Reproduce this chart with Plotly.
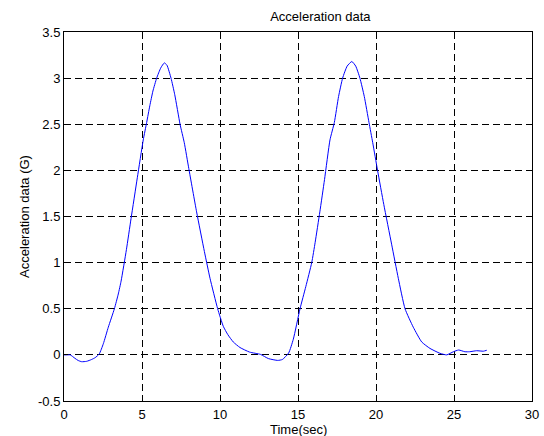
import plotly.graph_objects as go

time_sec = [0.0, 0.2, 0.4, 0.7, 0.9, 1.13, 1.45, 1.77, 2.0, 2.26, 2.52, 2.84, 3.23, 3.48, 3.66,
            4.0, 4.3, 4.7, 5.08, 5.3, 5.5, 5.7, 5.94, 6.2, 6.43, 6.6, 6.86, 7.1, 7.44, 7.71,
            8.0, 8.5, 9.0, 9.36, 9.85, 10.21, 10.5, 10.85, 11.28, 11.9, 12.6, 13.1, 13.7,
            14.0, 14.4, 14.7, 15.13, 15.5, 15.88, 16.1, 16.4, 16.7, 17.05, 17.33, 17.6, 17.86,
            18.15, 18.45, 18.7, 18.97, 19.25, 19.55, 19.79, 20.1, 20.5, 21.0, 21.43, 21.86,
            22.39, 22.93, 23.46, 24.1, 24.53, 24.96, 25.3, 25.7, 26.0, 26.45, 26.88, 27.1]
accel_g = [0.0, 0.0, 0.0, -0.037, -0.06, -0.074, -0.07, -0.05, -0.03, 0.01, 0.12, 0.3, 0.5, 0.66, 0.8,
           1.14, 1.48, 1.92, 2.33, 2.52, 2.7, 2.86, 3.0, 3.11, 3.165, 3.14, 3.0, 2.82, 2.5, 2.3,
           2.02, 1.55, 1.12, 0.83, 0.5, 0.31, 0.22, 0.14, 0.08, 0.03, 0.005, -0.04, -0.06,
           -0.05, 0.02, 0.17, 0.5, 0.74, 1.0, 1.22, 1.55, 1.9, 2.33, 2.52, 2.8, 3.0,
           3.13, 3.18, 3.13, 3.0, 2.8, 2.52, 2.3, 2.0, 1.63, 1.2, 0.83, 0.5,
           0.3, 0.14, 0.07, 0.017, 0.0, 0.034, 0.053, 0.034, 0.034, 0.045, 0.04, 0.05]

x_ticks = [0, 5, 10, 15, 20, 25, 30]
y_ticks = [-0.5, 0, 0.5, 1, 1.5, 2, 2.5, 3, 3.5]
y_tick_labels = ["-0.5", "0", "0.5", "1", "1.5", "2", "2.5", "3", "3.5"]

fig = go.Figure()
fig.add_trace(go.Scatter(x=time_sec, y=accel_g, mode="lines",
                         line=dict(color="#0000ff", width=1, shape="spline", smoothing=0.5),
                         showlegend=False))

font = dict(family="Liberation Sans, Arial, Helvetica, sans-serif", size=13, color="black")
axis_common = dict(showline=True, linecolor="black", linewidth=1, mirror="allticks",
                   ticks="inside", ticklen=4, tickcolor="black", showgrid=True,
                   gridcolor="black", gridwidth=1, griddash="7px,4px", zeroline=False,
                   tickfont=font, automargin=False)

plot_top, plot_bottom = 32, 401
plot_h = plot_bottom - plot_top

fig.update_layout(
    width=544, height=436,
    margin=dict(l=64, r=12, t=plot_top, b=436 - plot_bottom),
    paper_bgcolor="white", plot_bgcolor="white",
    font=font,
    title=dict(text="Acceleration data", x=(64 + 532) / 2 / 544, xref="paper", xanchor="center",
               y=1 - 16 / 436, yanchor="middle", font=dict(size=13, family=font["family"])),
    xaxis=dict(range=[0, 30], tickvals=x_ticks, ticktext=[str(v) for v in x_ticks],
               ticklabelstandoff=1, **axis_common),
    yaxis=dict(range=[-0.5, 3.5], tickvals=y_ticks, ticktext=y_tick_labels,
               title=dict(text="Acceleration data (G)", standoff=5, font=dict(size=13)),
               **axis_common),
    annotations=[dict(text="Time(sec)", xref="paper", yref="paper", x=0.5,
                      y=-(429 - plot_bottom) / plot_h, xanchor="center", yanchor="middle",
                      showarrow=False, font=dict(size=13, family=font["family"]))],
)

fig.write_html("out.html")
